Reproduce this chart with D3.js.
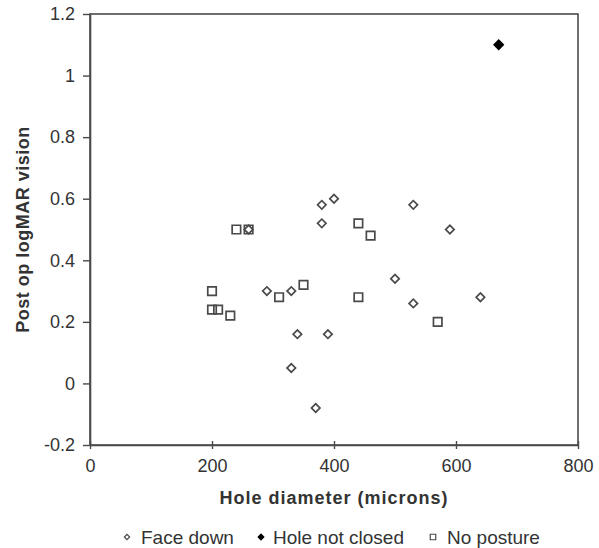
<!DOCTYPE html>
<html>
<head>
<meta charset="utf-8">
<script src="https://cdn.jsdelivr.net/npm/d3@7"></script>
<style>
	body { margin: 0; background: #fff; }
	svg text { font-family: Arial, "Liberation Sans", sans-serif; }
</style>
</head>
<body>
<div id="div_id_main"></div>
<script>

// ---- data ----
var vFaceDown_X = [260, 290, 330, 340, 330, 370, 380, 380, 390, 400, 500, 530, 530, 590, 640];
var vFaceDown_Y = [0.50, 0.30, 0.30, 0.16, 0.05, -0.08, 0.58, 0.52, 0.16, 0.60, 0.34, 0.58, 0.26, 0.50, 0.28];

var vNotClosed_X = [670];
var vNotClosed_Y = [1.10];

var vNoPosture_X = [200, 200, 210, 230, 240, 260, 310, 350, 440, 460, 440, 570];
var vNoPosture_Y = [0.30, 0.24, 0.24, 0.22, 0.50, 0.50, 0.28, 0.32, 0.52, 0.48, 0.28, 0.20];

var vTicks_X = [0, 200, 400, 600, 800];
var vTicks_Y = [-0.2, 0, 0.2, 0.4, 0.6, 0.8, 1, 1.2];

var vLegend = ["Face down", "Hole not closed", "No posture"];

// ---- layout ----
var WIDTH = 599, HEIGHT = 548;
var PLOT_LEFT = 90, PLOT_RIGHT = 578, PLOT_TOP = 14, PLOT_BOTTOM = 445;
var COLOR_AXIS = "#4a4a4a";
var COLOR_TEXT = "#333";

var fScale_X = d3.scaleLinear().domain([0, 800]).range([PLOT_LEFT, PLOT_RIGHT]);
var fScale_Y = d3.scaleLinear().domain([-0.2, 1.2]).range([PLOT_BOTTOM, PLOT_TOP]);

var svgMain = d3.select("#div_id_main")
				.append("svg")
					.attr("width", WIDTH)
					.attr("height", HEIGHT);

// plot frame
svgMain.append("rect")
		.attr("x", PLOT_LEFT)
		.attr("y", PLOT_TOP)
		.attr("width", PLOT_RIGHT - PLOT_LEFT)
		.attr("height", PLOT_BOTTOM - PLOT_TOP)
		.attr("fill", "none")
		.attr("stroke", COLOR_AXIS)
		.attr("stroke-width", 1.6);

// x axis
var gAxisX = svgMain.append("g")
				.attr("transform", "translate(0," + PLOT_BOTTOM + ")")
				.call(d3.axisBottom(fScale_X)
						.tickValues(vTicks_X)
						.tickFormat(d3.format("d"))
						.tickSizeInner(-4)
						.tickSizeOuter(0)
						.tickPadding(14));

gAxisX.selectAll(".tick line").attr("y1", 4);

// y axis (plain hyphen for negatives, like the original)
var gAxisY = svgMain.append("g")
				.attr("transform", "translate(" + PLOT_LEFT + ",0)")
				.call(d3.axisLeft(fScale_Y)
						.tickValues(vTicks_Y)
						.tickFormat(function (d) { return String(Math.round(d * 10) / 10); })
						.tickSizeInner(7)
						.tickSizeOuter(0)
						.tickPadding(8));

[gAxisX, gAxisY].forEach(function (g) {
	g.select(".domain").attr("stroke", COLOR_AXIS).attr("stroke-width", 1.6);
	g.selectAll(".tick line").attr("stroke", COLOR_AXIS).attr("stroke-width", 1.4);
	g.selectAll(".tick text")
		.attr("fill", COLOR_TEXT)
		.style("font-size", "18px");
});

// axis titles
svgMain.append("text")
		.attr("x", (PLOT_LEFT + PLOT_RIGHT) / 2)
		.attr("y", 504)
		.attr("text-anchor", "middle")
		.attr("fill", COLOR_TEXT)
		.style("font-size", "18px")
		.style("font-weight", "bold")
		.style("letter-spacing", "1px")
		.text("Hole diameter (microns)");

svgMain.append("text")
		.attr("transform", "translate(29," + ((PLOT_TOP + PLOT_BOTTOM) / 2) + ") rotate(-90)")
		.attr("text-anchor", "middle")
		.attr("fill", COLOR_TEXT)
		.style("font-size", "18px")
		.style("font-weight", "bold")
		.style("letter-spacing", "0.5px")
		.text("Post op logMAR vision");

// ---- markers ----
var symDiamond = d3.symbol().type(d3.symbolSquare).size(36);
var symDiamondFill = d3.symbol().type(d3.symbolSquare).size(40);
var symSquare = d3.symbol().type(d3.symbolSquare).size(72);

function funcDraw_Series(vX, vY, sPath, cFill, cStroke, bRotate) {

	let gSeries = svgMain.append("g");

	gSeries.selectAll("path")
			.data(d3.range(vX.length))
			.enter()
			.append("path")
				.attr("d", sPath)
				.attr("transform", function (i) {
					return "translate(" + fScale_X(vX[i]) + "," + fScale_Y(vY[i]) + ")" + (bRotate ? " rotate(45)" : "");
				})
				.attr("fill", cFill)
				.attr("stroke", cStroke)
				.attr("stroke-width", 1.7);
}

funcDraw_Series(vNoPosture_X, vNoPosture_Y, symSquare(), "none", COLOR_AXIS, false);
funcDraw_Series(vFaceDown_X, vFaceDown_Y, symDiamond(), "none", COLOR_AXIS, true);
funcDraw_Series(vNotClosed_X, vNotClosed_Y, symDiamondFill(), "#000", "#000", true);

// ---- legend ----
var vLegendSym = [
	{ path: d3.symbol().type(d3.symbolSquare).size(14)(), fill: "none", stroke: COLOR_AXIS, rotate: true, x: 127, tx: 141 },
	{ path: d3.symbol().type(d3.symbolSquare).size(16)(), fill: "#000", stroke: "#000", rotate: true, x: 261, tx: 273 },
	{ path: d3.symbol().type(d3.symbolSquare).size(30)(), fill: "none", stroke: COLOR_AXIS, rotate: false, x: 433, tx: 447 }
];

var LEGEND_Y = 537;

var gLegend = svgMain.append("g");

vLegend.forEach(function (sName, i) {

	let oSym = vLegendSym[i];

	gLegend.append("path")
			.attr("d", oSym.path)
			.attr("transform", "translate(" + oSym.x + "," + LEGEND_Y + ")" + (oSym.rotate ? " rotate(45)" : ""))
			.attr("fill", oSym.fill)
			.attr("stroke", oSym.stroke)
			.attr("stroke-width", 1.2);

	gLegend.append("text")
			.attr("x", oSym.tx)
			.attr("y", LEGEND_Y + 6.5)
			.attr("fill", COLOR_TEXT)
			.style("font-size", "19px")
			.text(sName);
});

</script>
</body>
</html>
